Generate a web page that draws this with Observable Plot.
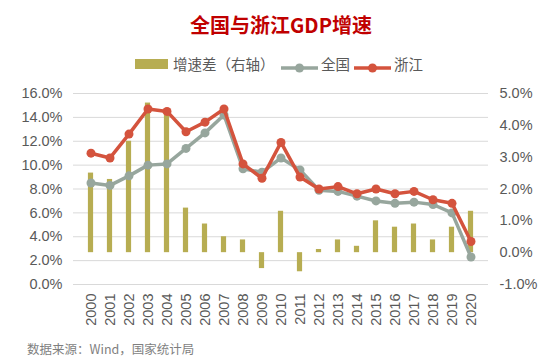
<!DOCTYPE html>
<html>
<head>
<meta charset="utf-8">
<script src="https://cdn.jsdelivr.net/npm/d3@7"></script>
<script src="https://cdn.jsdelivr.net/npm/@observablehq/plot@0.6"></script>
<style>
  html, body { margin: 0; padding: 0; background: #fff; }
  #wrap { position: relative; width: 556px; height: 362px; overflow: hidden; font-family: "Liberation Sans", Arial, "Noto Sans CJK SC", sans-serif; color: #595959; }
  .abs { position: absolute; white-space: nowrap; }
  #title { left: 0; width: 562px; top: 11px; text-align: center; font-family: "Noto Sans CJK SC", sans-serif; font-weight: bold; font-size: 20px; line-height: 28px; color: #C00000; }
  .leg { font-family: "Noto Sans CJK SC", sans-serif; font-size: 14.5px; line-height: 20px; top: 54px; color: #595959; }
  #chart { position: absolute; left: 0; top: 80px; }
  #caption { left: 27px; top: 340px; font-family: "Noto Sans CJK SC", sans-serif; font-size: 12.5px; line-height: 18px; color: #7f7f7f; }
</style>
</head>
<body>
<div id="wrap">
  <div id="title" class="abs">全国与浙江GDP增速</div>
  <div id="legend"></div>
  <div id="chart"></div>
  <div id="caption" class="abs">数据来源：Wind，国家统计局</div>
</div>
<script>
const years = ["2000","2001","2002","2003","2004","2005","2006","2007","2008","2009","2010","2011","2012","2013","2014","2015","2016","2017","2018","2019","2020"];
const national = [8.5, 8.3, 9.1, 10.0, 10.1, 11.4, 12.7, 14.2, 9.7, 9.4, 10.6, 9.6, 7.9, 7.8, 7.4, 7.0, 6.8, 6.9, 6.7, 6.0, 2.3];
const zhejiang = [11.0, 10.6, 12.6, 14.7, 14.5, 12.8, 13.6, 14.7, 10.1, 8.9, 11.9, 9.0, 8.0, 8.2, 7.6, 8.0, 7.6, 7.8, 7.1, 6.8, 3.6];
const diff = [2.5, 2.3, 3.5, 4.7, 4.4, 1.4, 0.9, 0.5, 0.4, -0.5, 1.3, -0.6, 0.1, 0.4, 0.2, 1.0, 0.8, 0.9, 0.4, 0.8, 1.3];
const leftTicks = [0, 2, 4, 6, 8, 10, 12, 14, 16];
const rightTicks = [-1, 0, 1, 2, 3, 4, 5];
const seriesNames = ["增速差（右轴）", "全国", "浙江"];

const colors = { bar: "#B7AD52", national: "#97A69D", zhejiang: "#D4533D" };

// right axis (-1..5) mapped onto left axis (0..16)
const toLeft = v => (v + 1) * 16 / 6;
const fromLeft = d => { let v = Math.round((d * 6 / 16 - 1) * 10) / 10; if (Object.is(v, -0)) v = 0; return v; };

const rows = years.map((y, i) => ({ year: y, national: national[i], zhejiang: zhejiang[i], diff: diff[i] }));

const chart = Plot.plot({
  width: 556,
  height: 249,
  marginLeft: 73,
  marginRight: 68,
  marginTop: 13,
  marginBottom: 45,
  style: { fontFamily: "'Liberation Sans', Arial, sans-serif", fontSize: "14.5px", color: "#595959", background: "transparent" },
  x: { type: "band", domain: years, padding: 0, label: null },
  y: { domain: [0, 16], label: null },
  marks: [
    Plot.gridY(leftTicks, { stroke: "#D9D9D9", strokeOpacity: 1, strokeWidth: 1 }),
    Plot.axisY(leftTicks, { anchor: "left", tickSize: 0, tickPadding: 11, label: null, tickFormat: d => d.toFixed(1) + "%" }),
    Plot.axisY(rightTicks.map(toLeft), { anchor: "right", tickSize: 0, tickPadding: 11, label: null, tickFormat: d => fromLeft(d).toFixed(1) + "%" }),
    Plot.axisX({ tickRotate: -90, tickSize: 0, tickPadding: 9, label: null }),
    Plot.rectY(rows, { x: "year", y1: () => toLeft(0), y2: d => toLeft(d.diff), fill: colors.bar, insetLeft: 6.9, insetRight: 6.9 }),
    Plot.line(rows, { x: "year", y: "national", stroke: colors.national, strokeWidth: 3.5, strokeLinejoin: "round" }),
    Plot.dot(rows, { x: "year", y: "national", r: 4.5, fill: colors.national, stroke: "none" }),
    Plot.line(rows, { x: "year", y: "zhejiang", stroke: colors.zhejiang, strokeWidth: 3.5, strokeLinejoin: "round" }),
    Plot.dot(rows, { x: "year", y: "zhejiang", r: 4.5, fill: colors.zhejiang, stroke: "none" })
  ]
});
document.getElementById("chart").appendChild(chart);

// legend
const legend = document.getElementById("legend");
function addAbs(html, left, top) {
  const el = document.createElement("div");
  el.className = "abs";
  el.style.left = left + "px";
  el.style.top = top + "px";
  el.innerHTML = html;
  legend.appendChild(el);
  return el;
}
addAbs(`<div style="width:33px;height:10px;background:${colors.bar}"></div>`, 135, 59);
const t1 = addAbs(seriesNames[0], 173, 54); t1.classList.add("leg");
const lineSw = c => `<svg width="37" height="10"><line x1="0" y1="5" x2="37" y2="5" stroke="${c}" stroke-width="3.5"/><circle cx="18.5" cy="5" r="4.5" fill="${c}"/></svg>`;
addAbs(lineSw(colors.national), 281, 59);
const t2 = addAbs(seriesNames[1], 321, 54); t2.classList.add("leg");
addAbs(lineSw(colors.zhejiang), 354, 59);
const t3 = addAbs(seriesNames[2], 394, 54); t3.classList.add("leg");
</script>
</body>
</html>
